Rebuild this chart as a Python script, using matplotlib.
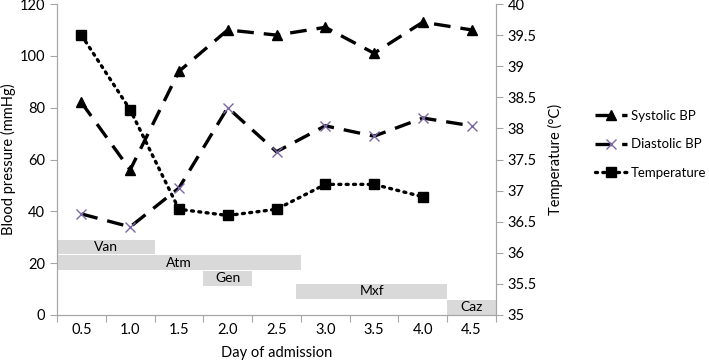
import numpy as np
import matplotlib.pyplot as plt

# Data
days = ['0.5', '1.0', '1.5', '2.0', '2.5', '3.0', '3.5', '4.0', '4.5']
systolic = [82, 56, 94, 110, 108, 111, 101, 113, 110]
diastolic = [39, 34, 49, 80, 63, 73, 69, 76, 73]
temperature = [39.5, 38.3, 36.7, 36.6, 36.7, 37.1, 37.1, 36.9, np.nan]

# Antibiotic periods (in category units from left edge) and vertical band (mmHg)
drugs = ['Van', 'Atm', 'Gen', 'Mxf', 'Caz']
drug_start = [0.0, 0.0, 3.0, 4.9, 8.0]
drug_end = [2.0, 5.0, 4.0, 8.0, 9.0]
drug_low = [23.5, 17.5, 11.3, 6.2, 0.0]
drug_high = [29.0, 23.0, 17.0, 12.0, 5.8]

plt.rcParams['font.family'] = ['Lato', 'DejaVu Sans']
fig = plt.figure(figsize=(7.09, 3.61), dpi=100)
ax = fig.add_axes([57 / 709, 1 - 315 / 361, (496 - 57) / 709, (315 - 4) / 361])
ax2 = ax.twinx()

x = np.arange(len(days)) + 0.5
gray = '#a6a6a6'

# drug bars
for name, s, e, lo, hi in zip(drugs, drug_start, drug_end, drug_low, drug_high):
    ax.barh((lo + hi) / 2, e - s, left=s, height=hi - lo, color='#d9d9d9', zorder=1)
    ax.text((s + e) / 2, (lo + hi) / 2, name, ha='center', va='center', fontsize=10, zorder=2)

l1, = ax.plot(x, systolic, color='black', lw=2.4, dashes=(5, 3), marker='^', ms=7,
              label='Systolic BP', zorder=3)
l2, = ax.plot(x, diastolic, color='black', lw=2.4, dashes=(5, 3), marker='x', ms=7,
              mec='#7a68a6', mew=1.0, label='Diastolic BP', zorder=3)
l3, = ax2.plot(x, temperature, color='black', lw=2.4, ls=(0, (0.6, 1.6)), marker='s', ms=7,
               label='Temperature', zorder=3)
l3.set_dash_capstyle('round')

ax.set_xlim(0, len(days))
ax.set_ylim(0, 120)
ax.set_yticks(range(0, 121, 20))
ax2.set_ylim(35, 40)
ax2.set_yticks(np.arange(35, 40.01, 0.5))
ax2.set_yticklabels(['35', '35.5', '36', '36.5', '37', '37.5', '38', '38.5', '39', '39.5', '40'])

ax.set_xticks(np.arange(0, len(days) + 1))
ax.set_xticklabels([])
ax.set_xticks(x, minor=True)
ax.set_xticklabels(days, minor=True)
ax.tick_params(axis='x', which='minor', length=0, pad=6, labelsize=10.5)
ax.tick_params(axis='x', which='major', length=5, color=gray)
ax.tick_params(axis='y', length=5, color=gray, labelsize=10.5)
ax2.tick_params(axis='y', length=5, color=gray, labelsize=10.5)

for a in (ax, ax2):
    a.spines['top'].set_visible(False)
    for sp in ('left', 'right', 'bottom'):
        a.spines[sp].set_color(gray)

ax.set_xlabel('Day of admission', fontsize=10.5, labelpad=6)
ax.set_ylabel('Blood pressure (mmHg)', fontsize=10.5, labelpad=3)
ax2.set_ylabel('Temperature (°C)', fontsize=10.5, labelpad=8)

fig.legend(handles=[l1, l2, l3], loc='center left', bbox_to_anchor=(595 / 709, 0.6),
           frameon=False, fontsize=9.5, handlelength=2.4, handletextpad=0.3,
           labelspacing=1.25, borderaxespad=0, borderpad=0)

fig.savefig('out.png', dpi=100)
